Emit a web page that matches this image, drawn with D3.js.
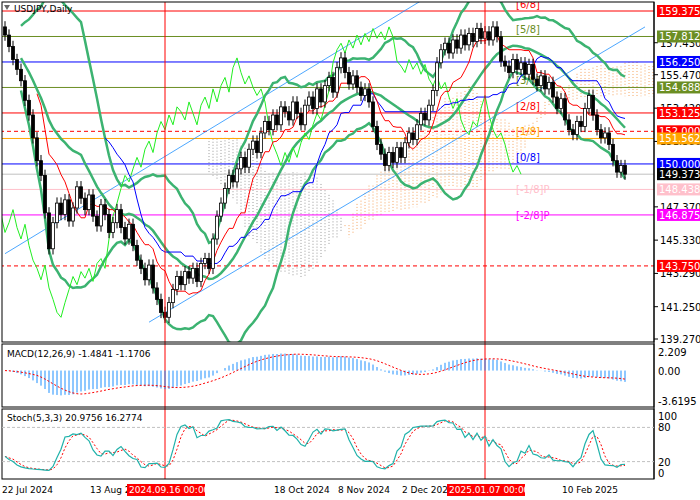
<!DOCTYPE html><html><head><meta charset="utf-8"><script src="https://cdn.jsdelivr.net/npm/d3@7"></script>
<style>body{margin:0;background:#fff}svg text{font-family:"DejaVu Sans",sans-serif}</style></head><body><svg id="c" width="700" height="500"></svg><script>
const closes=[157.9,157.2,156.4,155.8,155.1,153.9,153.0,151.6,150.2,149.3,147.0,144.8,146.4,147.6,146.9,147.8,146.5,147.3,148.6,147.9,147.2,148.1,146.8,146.2,147.5,146.9,145.8,146.4,147.2,146.1,145.4,146.3,145.0,144.1,143.6,142.9,143.8,142.4,141.7,140.9,140.6,141.5,142.3,143.1,142.6,143.4,143.0,143.6,142.8,143.9,144.2,143.6,145.4,146.8,147.6,148.5,149.3,148.9,149.7,150.4,149.8,150.9,151.4,150.7,151.9,152.6,152.1,153.0,152.4,153.5,153.2,152.7,153.8,153.1,152.4,153.6,154.1,153.4,154.6,153.8,154.8,155.3,154.4,155.9,156.5,155.6,154.9,155.4,154.7,154.2,154.6,153.8,152.3,151.2,150.6,149.9,150.7,150.1,151.0,150.4,151.3,151.9,151.5,152.4,153.1,152.7,153.6,154.5,156.2,157.0,157.4,156.8,157.6,157.1,157.9,157.3,158.0,157.5,158.3,157.7,158.1,157.6,158.4,157.8,156.3,156.0,155.6,156.4,155.8,156.2,155.5,156.1,155.2,154.8,155.4,154.6,155.0,154.1,153.4,154.0,152.7,152.1,151.8,152.6,152.3,153.4,154.2,153.0,152.1,151.6,151.9,151.2,150.2,149.5,149.9,149.373];
const firstOpen=158.4;
const levels=[[159.375,"#ff0000","[6/8]",false],[157.812,"#6b8e23","[5/8]",false],[156.25,"#0000ff","",false],[154.688,"#6b8e23","[3/8]",false],[153.125,"#ff0000","[2/8]",false],[152.0,"#ff0000","",true],[151.562,"#ffa500","[1/8]",false],[150.0,"#0000ff","[0/8]",false],[148.438,"#ffc0cb","[-1/8]P",false],[146.875,"#ff00ff","[-2/8]P",false],[143.75,"#ff0000","",true]];
const priceTicks=[157.430,155.470,153.420,151.380,147.370,145.330,143.290,141.250,139.270];
const dateLabels=[[0,"22 Jul 2024"],[22,"13 Aug 2024"],[68,"18 Oct 2024"],[84,"8 Nov 2024"],[100,"2 Dec 2024"],[140,"10 Feb 2025"]];
const markers=[[40,"2024.09.16 00:00"],[120,"2025.01.07 00:00"]];
const svg=d3.select("#c");
const R=654, n=closes.length;
const x=d3.scaleLinear().domain([0,155]).range([5,625]);
const y=d3.scaleLinear().domain([139.27,159.375]).range([339,11]);
const opens=closes.map((c,i)=>i?closes[i-1]:firstOpen);
const highs=closes.map((c,i)=>Math.max(c,opens[i])+0.35), lows=closes.map((c,i)=>Math.min(c,opens[i])-0.35);
const hl=(p,i)=>{if(i<p-1)return null;let h=-1e9,l=1e9;for(let k=i-p+1;k<=i;k++){h=Math.max(h,highs[k]);l=Math.min(l,lows[k]);}return (h+l)/2};
const sma=(a,p,i)=>{if(i<p-1)return null;let s=0;for(let k=i-p+1;k<=i;k++)s+=a[k];return s/p};
svg.append("defs").append("clipPath").attr("id","m").append("rect").attr("x",2).attr("y",2).attr("width",R-2).attr("height",340);
const g=svg.append("g").attr("clip-path","url(#m)");
const tenkan=closes.map((c,i)=>hl(9,i)), kijun=closes.map((c,i)=>hl(26,i));
for(let i=0;i<n;i++){const a=(tenkan[i]!=null&&kijun[i]!=null)?(tenkan[i]+kijun[i])/2:null;const b=hl(52,i)??hl(Math.max(i+1,20),i);
 if(a==null||b==null)continue;const xi=x(i+26);
 g.append("line").attr("x1",xi).attr("x2",xi).attr("y1",y(a)).attr("y2",y(b)).attr("stroke",a>b?"#f4a460":"#999").attr("stroke-dasharray","1,2").attr("stroke-width",1);}
levels.forEach(([v,c,t,d])=>{g.append("line").attr("x1",0).attr("x2",R).attr("y1",y(v)).attr("y2",y(v)).attr("stroke",c).attr("stroke-dasharray",d?"4,3":null);
 if(t)g.append("text").attr("x",516).attr("y",y(v)+(v<149?4:-3)).attr("font-size",10).attr("fill",c).text(t);});
g.append("line").attr("x1",0).attr("x2",R).attr("y1",y(149.373)).attr("y2",y(149.373)).attr("stroke","#c0c0c0");
[[0,144.5,104,160.0],[36,140.3,160,158.4]].forEach(([i1,v1,i2,v2])=>g.append("line").attr("x1",x(i1)).attr("y1",y(v1)).attr("x2",x(i2)).attr("y2",y(v2)).attr("stroke","#1e90ff").attr("stroke-width",0.8));
const bb=closes.map((c,i)=>{const p=Math.min(20,i+1);if(i<4)return null;const m=sma(closes,p,i);let s=0;for(let k=i-p+1;k<=i;k++)s+=(closes[k]-m)**2;const sd=Math.sqrt(s/p);return [m,m+2*sd,m-2*sd]});
const line=(arr,acc,sh=0)=>d3.line().defined(d=>d[1]!=null).x(d=>x(d[0]+sh)).y(d=>y(d[1]))(arr.map((v,i)=>[i,acc(v,i)]));
[0,1,2].forEach(k=>g.append("path").attr("d",line(bb,v=>v?v[k]:null)).attr("fill","none").attr("stroke","#3cb371").attr("stroke-width",2.5));
g.append("path").attr("d",line(closes,(v,i)=>closes[i],-26)).attr("fill","none").attr("stroke","#22ee22").attr("stroke-width",1);
g.append("path").attr("d",line(kijun,v=>v)).attr("fill","none").attr("stroke","#0000ff").attr("stroke-width",1);
g.append("path").attr("d",line(tenkan,v=>v)).attr("fill","none").attr("stroke","#ff0000").attr("stroke-width",1);
closes.forEach((c,i)=>{const o=opens[i],xi=x(i);
 g.append("line").attr("x1",xi).attr("x2",xi).attr("y1",y(highs[i])).attr("y2",y(lows[i])).attr("stroke","#000");
 g.append("rect").attr("x",xi-1.5).attr("width",3).attr("y",y(Math.max(o,c))).attr("height",Math.max(1,Math.abs(y(o)-y(c)))).attr("fill",c>=o?"#fff":"#000").attr("stroke","#000").attr("stroke-width",0.8);});
markers.forEach(([i])=>svg.append("line").attr("x1",x(i)).attr("x2",x(i)).attr("y1",2).attr("y2",479).attr("stroke","#ff0000"));
[[2,342],[344,407],[409,479]].forEach(([a,b])=>svg.append("rect").attr("x",2).attr("y",a).attr("width",R-2).attr("height",b-a).attr("fill","none").attr("stroke","#000"));
svg.append("line").attr("x1",R).attr("x2",R).attr("y1",2).attr("y2",479).attr("stroke","#000");
priceTicks.forEach(v=>{svg.append("line").attr("x1",R).attr("x2",R+4).attr("y1",y(v)).attr("y2",y(v)).attr("stroke","#000");svg.append("text").attr("x",R+6).attr("y",y(v)+4).attr("font-size",10).text(v.toFixed(3));});
const tag=(v,bg,fg)=>{svg.append("rect").attr("x",R+3).attr("y",y(v)-6).attr("width",43).attr("height",12).attr("fill",bg);svg.append("text").attr("x",R+5).attr("y",y(v)+4).attr("font-size",10).attr("fill",fg).text(v.toFixed(3));};
levels.forEach(([v,c])=>tag(v,c,"#fff"));tag(149.373,"#000","#fff");
svg.append("text").attr("x",14).attr("y",12).attr("font-size",9).text("USDJPY,Daily");
svg.append("path").attr("d","M4,5 L10,5 L7,10 Z").attr("fill","#666");
const ema=(a,p)=>{const k=2/(p+1);let r=[];a.forEach((v,i)=>r.push(i?v*k+r[i-1]*(1-k):v));return r};
const e12=ema(closes,12),e26=ema(closes,26),macd=e12.map((v,i)=>v-e26[i]);
const sig=macd.map((v,i)=>sma(macd,Math.min(9,i+1),i));
const ym=d3.scaleLinear().domain([-3.6195,2.209]).range([401,352]);
macd.forEach((v,i)=>svg.append("line").attr("x1",x(i)).attr("x2",x(i)).attr("y1",ym(0)).attr("y2",ym(v)).attr("stroke","#1e90ff").attr("stroke-width",1));
svg.append("path").attr("d",d3.line().x((d,i)=>x(i)).y(d=>ym(d))(sig)).attr("fill","none").attr("stroke","#ff0000").attr("stroke-dasharray","2,2");
svg.append("text").attr("x",7).attr("y",357).attr("font-size",9).text("MACD(12,26,9) -1.4841 -1.1706");
[[2.209,"2.209"],[0,"0.00"],[-3.6195,"-3.6195"]].forEach(([v,t])=>svg.append("text").attr("x",R+4).attr("y",ym(v)+4).attr("font-size",10).text(t));
const raw=closes.map((c,i)=>{const a=Math.max(0,i-4);const h=d3.max(highs.slice(a,i+1)),l=d3.min(lows.slice(a,i+1));return 100*(c-l)/(h-l)});
const K=raw.map((v,i)=>sma(raw,Math.min(3,i+1),i)),D=K.map((v,i)=>sma(K,Math.min(3,i+1),i));
const ys=d3.scaleLinear().domain([0,100]).range([473,416]);
[80,20].forEach(v=>svg.append("line").attr("x1",2).attr("x2",R).attr("y1",ys(v)).attr("y2",ys(v)).attr("stroke","#c0c0c0").attr("stroke-dasharray","3,2"));
svg.append("path").attr("d",d3.line().x((d,i)=>x(i)).y(d=>ys(d))(D)).attr("fill","none").attr("stroke","#ff0000").attr("stroke-dasharray","2,2");
svg.append("path").attr("d",d3.line().x((d,i)=>x(i)).y(d=>ys(d))(K)).attr("fill","none").attr("stroke","#20b2aa").attr("stroke-width",1.2);
svg.append("text").attr("x",7).attr("y",421).attr("font-size",9).text("Stoch(5,3,3) 20.9756 16.2774");
[100,80,20,0].forEach(v=>svg.append("text").attr("x",R+4).attr("y",ys(v)+4).attr("font-size",10).text(v));
dateLabels.forEach(([i,t])=>svg.append("text").attr("x",x(i)-3).attr("y",493).attr("font-size",9).text(t));
markers.forEach(([i,t])=>{svg.append("rect").attr("x",x(i)-38).attr("y",484).attr("width",78).attr("height",12).attr("fill","#ff0000");svg.append("text").attr("x",x(i)-36).attr("y",493).attr("font-size",9).attr("fill","#fff").text(t);});
</script></body></html>
